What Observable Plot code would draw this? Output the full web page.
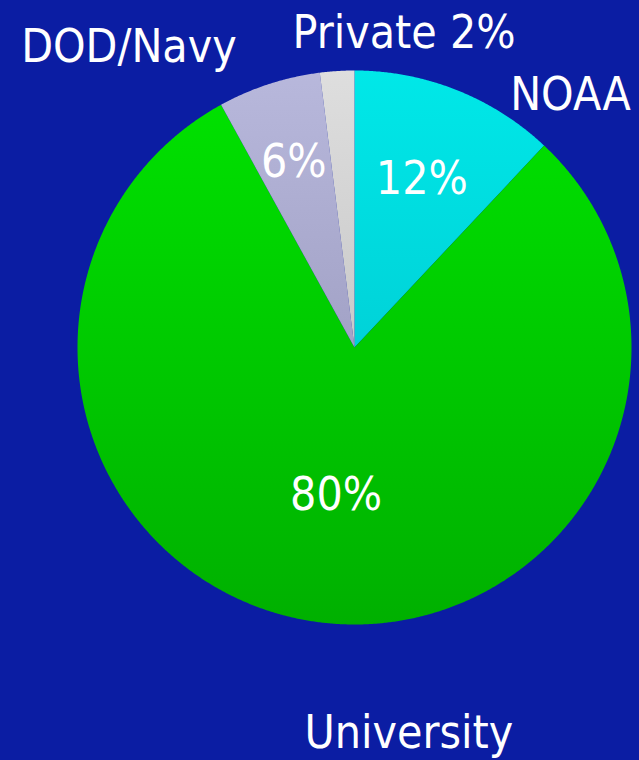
<!DOCTYPE html>
<html>
<head>
<meta charset="utf-8">
<script src="https://cdn.jsdelivr.net/npm/d3@7"></script>
<script src="https://cdn.jsdelivr.net/npm/@observablehq/plot@0.6"></script>
<style>
  html, body { margin: 0; padding: 0; background: #0b1da3; }
  #chart svg { display: block; }
</style>
</head>
<body>
<div id="chart"></div>
<script>
// ---- data ----
const categories = ["NOAA", "University", "DOD/Navy", "Private"];
const shares = [12, 80, 6, 2];
const pctLabels = ["12%", "80%", "6%", ""];
const outerLabels = ["NOAA", "University", "DOD/Navy", "Private 2%"];

// ---- styles / layout ----
const bg = "#0b1da3";
const gradTop = ["#00e8e8", "#00e400", "#b8b8dc", "#dedede"];
const gradBottom = ["#00bcc8", "#00b000", "#8c8cb0", "#b4b4b4"];
const innerRadius = [0.66, 0.53, 0.71, 0.7];
const outerDx = [114, 89, -140, 67];
const outerDy = [5, 111, -37, -38];
const fontFamily = "'DejaVu Sans Condensed', 'DejaVu Sans', sans-serif";

// ---- geometry from d3.pie (clockwise from 12 o'clock) ----
const arcs = d3.pie().sort(null).value(d => d)(shares);
const slices = [];
arcs.forEach((a, i) => {
  slices.push({cat: categories[i], x: 0, y: 0});
  const steps = Math.max(2, Math.ceil((a.endAngle - a.startAngle) / 0.005));
  for (let k = 0; k <= steps; k++) {
    const t = a.startAngle + (a.endAngle - a.startAngle) * k / steps;
    slices.push({cat: categories[i], x: Math.sin(t), y: Math.cos(t)});
  }
  slices.push({cat: categories[i], x: 0, y: 0});
});
const mids = arcs.map((a, i) => ({
  i, cat: categories[i], pct: pctLabels[i], label: outerLabels[i],
  m: (a.startAngle + a.endAngle) / 2
}));

const plot = Plot.plot({
  width: 639,
  height: 760,
  margin: 0,
  style: {background: bg, fontFamily, overflow: "visible"},
  x: {domain: [-1, 1], range: [77, 631], axis: null},
  y: {domain: [-1, 1], range: [624, 70], axis: null},
  color: {type: "ordinal", domain: categories, range: categories.map((c, i) => `url(#grad${i})`)},
  marks: [
    Plot.line(slices, {x: "x", y: "y", z: "cat", fill: "cat", stroke: "none", curve: "linear"}),
    Plot.text(mids.filter(d => d.pct), {
      x: d => innerRadius[d.i] * Math.sin(d.m),
      y: d => innerRadius[d.i] * Math.cos(d.m),
      text: "pct", fill: "white", fontSize: 46, dy: 2
    }),
    ...mids.map(d => Plot.text([d], {
      x: d => Math.sin(d.m), y: d => Math.cos(d.m),
      text: "label", fill: "white", fontSize: 46, dx: outerDx[d.i], dy: outerDy[d.i]
    }))
  ]
});

// vertical gradients across the pie height
const svg = d3.select(plot);
const defs = svg.insert("defs", ":first-child");
categories.forEach((c, i) => {
  const g = defs.append("linearGradient")
    .attr("id", `grad${i}`)
    .attr("gradientUnits", "userSpaceOnUse")
    .attr("x1", 0).attr("x2", 0).attr("y1", 70).attr("y2", 624);
  g.append("stop").attr("offset", "0%").attr("stop-color", gradTop[i]);
  g.append("stop").attr("offset", "100%").attr("stop-color", gradBottom[i]);
});
svg.selectAll("text").style("font-stretch", "condensed");

document.getElementById("chart").appendChild(plot);
</script>
</body>
</html>
